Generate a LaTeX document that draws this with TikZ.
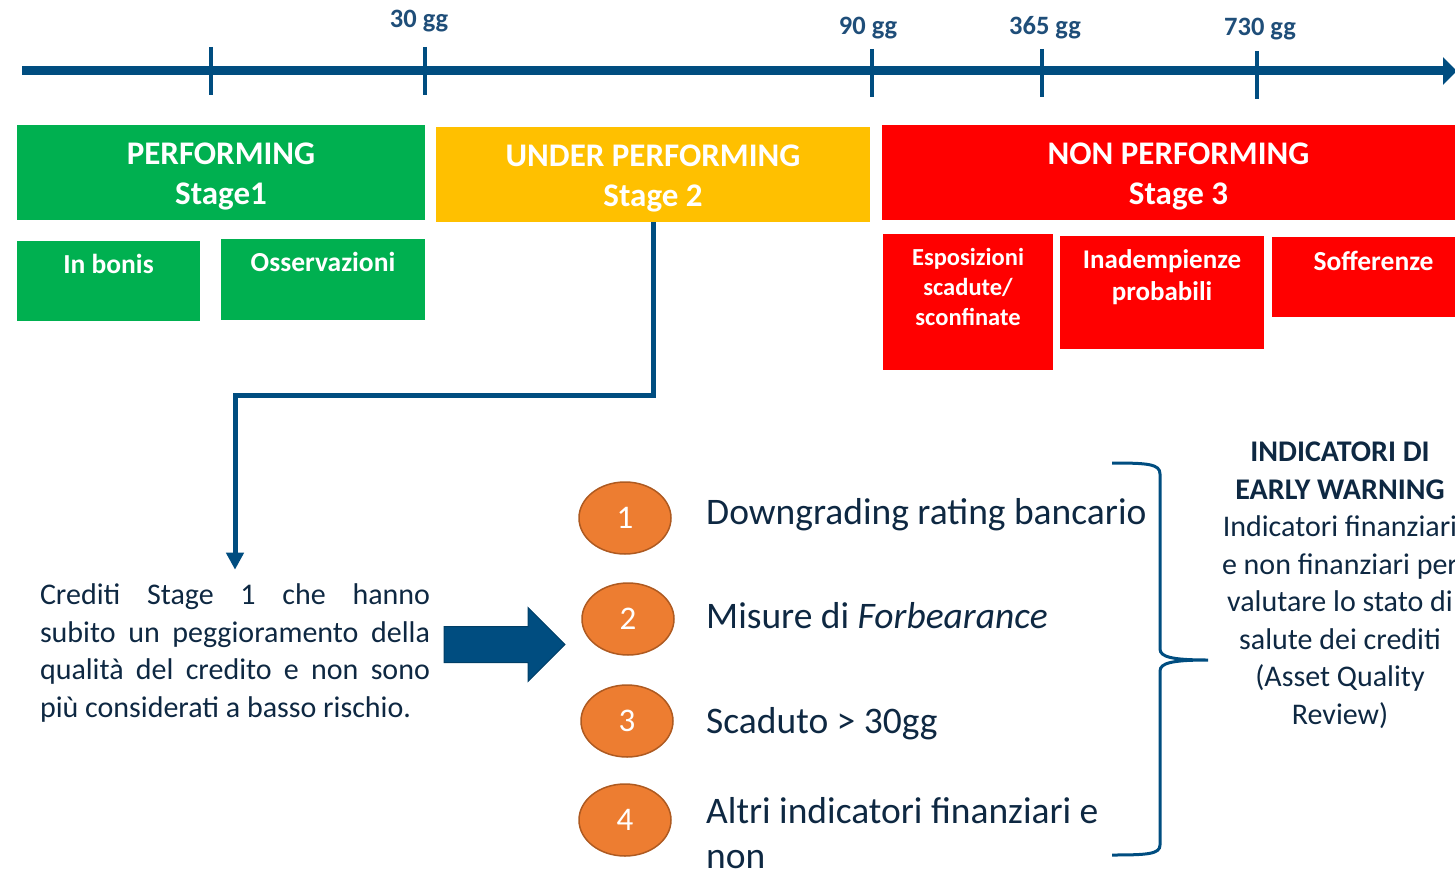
\documentclass[tikz,border=0pt]{standalone}
\usepackage{fontspec}
\setmainfont{Carlito}
\usetikzlibrary{positioning, shapes.geometric, shapes.arrows, arrows.meta}

\definecolor{lineblue}{RGB}{0,77,128}
\definecolor{labelblue}{RGB}{31,78,121}
\definecolor{textnavy}{RGB}{14,40,66}
\definecolor{perfgreen}{RGB}{0,176,80}
\definecolor{underyellow}{RGB}{255,192,0}
\definecolor{nonred}{RGB}{255,0,0}
\definecolor{dotorange}{RGB}{237,125,49}
\definecolor{dotedge}{RGB}{174,90,33}
\setlength{\parindent}{0pt}
\newcommand{\toprule}{\rule{0pt}{30pt}} % pushes the stage titles a bit down

\begin{document}
\begin{tikzpicture}[x=1pt, y=-1pt,
    timeline/.style={line width=9pt, draw=lineblue, -{Triangle[length=14pt,width=27pt]}},
    tick/.style={line width=4pt, draw=lineblue},
    daylabel/.style={text=labelblue, font=\fontsize{26.5}{30}\selectfont\bfseries, inner sep=0},
    stagebox/.style={fill=#1, text=white, inner sep=0, align=center,
        font=\fontsize{33}{40}\selectfont\bfseries},
    subbox/.style={fill=#1, inner sep=0},
    subtext/.style={text=white, inner sep=0, align=center,
        font=\fontsize{27.5}{31}\selectfont\bfseries},
    link/.style={line width=5pt, draw=lineblue, -{Triangle[length=17pt,width=17pt]}},
    para/.style={text=textnavy, inner sep=0, text width=390pt, align=justify,
        font=\fontsize{30}{37.5}\selectfont},
    push/.style={single arrow, fill=lineblue, draw=lineblue!80!black, line width=1pt,
        minimum height=121pt, inner xsep=0pt, inner ysep=17.5pt, single arrow head extend=19pt},
    dot/.style={ellipse, fill=dotorange, draw=dotedge, line width=1.5pt, text=white,
        minimum width=92pt, minimum height=72pt, font=\fontsize{33}{38}\selectfont},
    item/.style={text=textnavy, inner sep=0, anchor=base west, align=left,
        font=\fontsize{37.5}{45}\selectfont},
    bracket/.style={line width=3pt, draw=lineblue},
    side/.style={text=textnavy, inner sep=0, align=center, font=\fontsize{30}{37.5}\selectfont}
]
\useasboundingbox (0,0) rectangle (1455,869);
\clip (0,0) rectangle (1455,869);

% time axis
\coordinate (t0) at (22,71);
\coordinate (t1) at (1457,71);
\draw[timeline] (t0) -- (t1);
\foreach \x/\y in {211/71, 425/71, 872/73, 1042/73, 1257/75}
    \draw[tick] (\x,\y-24) -- (\x,\y+24);

\node[daylabel] (d30) at (419,21) {30 gg};
\node[daylabel] (d90) at (868,28) {90 gg};
\node[daylabel] (d365) at (1045,28) {365 gg};
\node[daylabel] (d730) at (1260,29) {730 gg};

% the three stages
\node[stagebox=perfgreen, minimum width=408pt, minimum height=95pt] (stage1) at (221,172.5) {\toprule PERFORMING\\Stage1};
\node[stagebox=underyellow, minimum width=434pt, minimum height=95pt] (stage2) at (653,174.5) {\toprule UNDER PERFORMING\\Stage 2};
\node[stagebox=nonred, minimum width=593pt, minimum height=95pt] (stage3) at (1178.5,172.5) {\toprule NON PERFORMING\\Stage 3};

% sub classes
\node[subbox=perfgreen, minimum width=183pt, minimum height=80pt] (bonis) at (108.5,281) {};
\node[subtext, below=13pt of bonis.north] (bonistxt) {In bonis};
\node[subbox=perfgreen, minimum width=204pt, minimum height=81pt] (osserv) at (323,279.5) {};
\node[subtext, below=13pt of osserv.north] (osservtxt) {Osservazioni};

\node[subbox=nonred, minimum width=170pt, minimum height=136pt] (espos) at (968,302) {};
\node[subtext, below=14pt of espos.north, font=\fontsize{24.5}{30}\selectfont\bfseries] (espostxt) {Esposizioni\\scadute/\\sconfinate};
\node[subbox=nonred, minimum width=204pt, minimum height=113pt] (inadem) at (1162,292.5) {};
\node[subtext, below=14pt of inadem.north, font=\fontsize{27}{32}\selectfont\bfseries] (inademtxt) {Inadempienze\\probabili};
\node[subbox=nonred, minimum width=203pt, minimum height=80pt] (soff) at (1373.5,277) {};
\node[subtext, below=14pt of soff.north] (sofftxt) {Sofferenze};

% stage 2 explained
\node[para] (crediti) at (235,653) {Crediti Stage 1 che hanno\linebreak
    subito un peggioramento della\linebreak
    qualità del credito e non sono\linebreak
    più considerati a basso rischio.};
\draw[link] (stage2.south) -- ++(0,173) -| ([yshift=14pt]crediti.north);

\node[push] (push) at (495.5,644.5) {};

% early warning list
\foreach \n/\x/\y in {1/625/518, 2/628/619, 3/627/721, 4/625/820}
    \node[dot] (dot\n) at (\x,\y) {\n};

\node[item] (item1) at (706,524) {Downgrading rating bancario};
\node[item] (item2) at (706,628) {Misure di \textit{Forbearance}};
\node[item] (item3) at (706,733) {Scaduto > 30gg};
\node[item] (item4) at (706,868) {Altri indicatori finanziari e\\non};

% brace
\coordinate (bt) at (1112,463);
\coordinate (bm) at (1208,660);
\coordinate (bb) at (1112,855);
\draw[bracket] (bt) .. controls (1148,463) and (1160,464) .. (1160,474) -- (1160,649)
    .. controls (1160,657) and (1172,660) .. (bm)
    .. controls (1172,660) and (1160,663) .. (1160,671) -- (1160,845)
    .. controls (1160,854) and (1148,855) .. (bb);

\node[side] (warn) at (1340,585) {\textbf{INDICATORI DI}\\\textbf{EARLY WARNING}\\Indicatori finanziari\\e non finanziari per\\valutare lo stato di\\salute dei crediti\\(Asset Quality\\Review)};
\end{tikzpicture}
\end{document}
